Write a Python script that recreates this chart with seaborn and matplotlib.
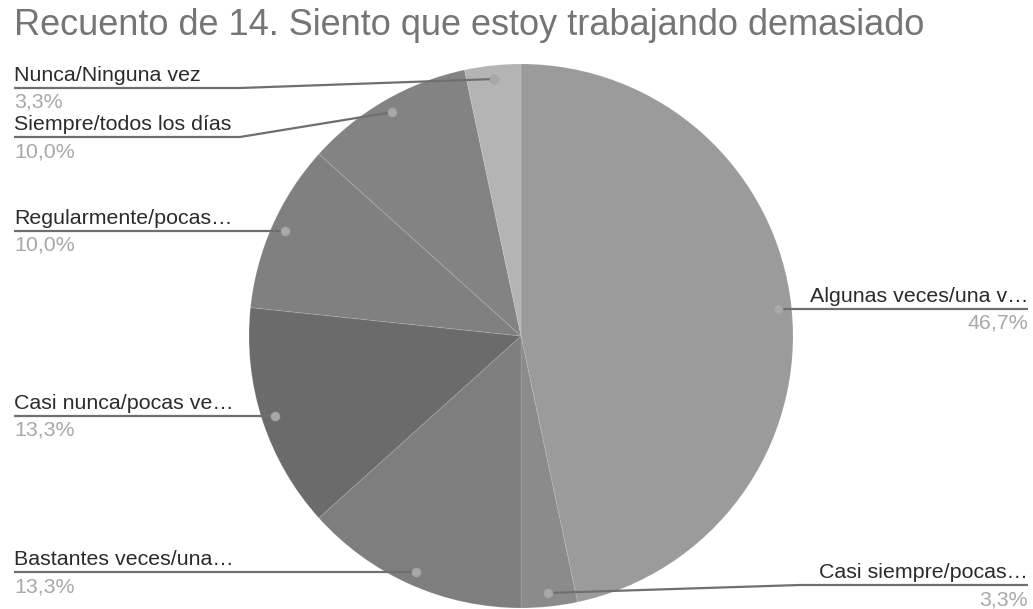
import matplotlib
matplotlib.use("Agg")
import matplotlib.pyplot as plt
import seaborn as sns
import numpy as np

# Survey responses for item 14 (counts)
categories = [
    "Algunas veces/una v…",
    "Casi siempre/pocas…",
    "Bastantes veces/una…",
    "Casi nunca/pocas ve…",
    "Regularmente/pocas…",
    "Siempre/todos los días",
    "Nunca/Ninguna vez",
]
counts = [14, 1, 4, 4, 3, 3, 1]
slice_colors = ["#9b9b9b", "#8b8b8b", "#7e7e7e", "#6b6b6b", "#808080", "#838383", "#b4b4b4"]

sns.set_theme(style="white")
plt.rcParams["font.family"] = ["Liberation Sans", "DejaVu Sans"]

W, H = 1033, 609
fig = plt.figure(figsize=(W / 100, H / 100), dpi=100)
ax = fig.add_axes([0, 0, 1, 1])

def py(p):
    """Convert a top-down pixel row into the axes' y coordinate."""
    return H - p

cx, cy, r = 521, py(336), 272
wedges, _ = ax.pie(
    counts,
    colors=slice_colors,
    startangle=90,
    counterclock=False,
    center=(cx, cy),
    radius=r,
    wedgeprops=dict(edgecolor=(1, 1, 1, 0.1), linewidth=0.8),
)
ax.set_xlim(0, W)
ax.set_ylim(0, H)
ax.set_aspect("equal")
ax.axis("off")

# Leader-line layout: side, elbow x, line row (None -> follow the dot)
layout = [
    ("right", None, None),
    ("right", 800, 585),
    ("left", None, None),
    ("left", None, None),
    ("left", None, None),
    ("left", 240, 137),
    ("left", 240, 88),
]

total = sum(counts)
line_col = "#6f6f6f"
for w, name, n, (side, ex, ly) in zip(wedges, categories, counts, layout):
    mid = np.deg2rad((w.theta1 + w.theta2) / 2)
    dx, dy = cx + 0.95 * r * np.cos(mid), cy + 0.95 * r * np.sin(mid)
    line_y = dy if ly is None else py(ly)
    elbow_x = dx if ex is None else ex
    end_x = 14 if side == "left" else 1028
    ax.plot([dx, elbow_x, end_x], [dy, line_y, line_y], color=line_col, lw=1.6,
            solid_capstyle="butt", zorder=3)
    ax.plot([dx], [dy], "o", ms=6.5, color="#a8a8a8", mec="#a0a0a0", mew=0.4, zorder=4)
    ha = "left" if side == "left" else "right"
    ax.text(end_x, line_y + 7, name, ha=ha, va="baseline", fontsize=15.4, color="#2b2b2b")
    pct = f"{100 * n / total:.1f}%".replace(".", ",")
    ax.text(end_x, line_y - 20, pct, ha=ha, va="baseline", fontsize=15.4, color="#a8a8a8")

fig.text(14 / W, 1 - 8 / H, "Recuento de 14. Siento que estoy trabajando demasiado",
         ha="left", va="top", fontsize=26, color="#757575")

fig.savefig("out.png", dpi=100, facecolor="white")
